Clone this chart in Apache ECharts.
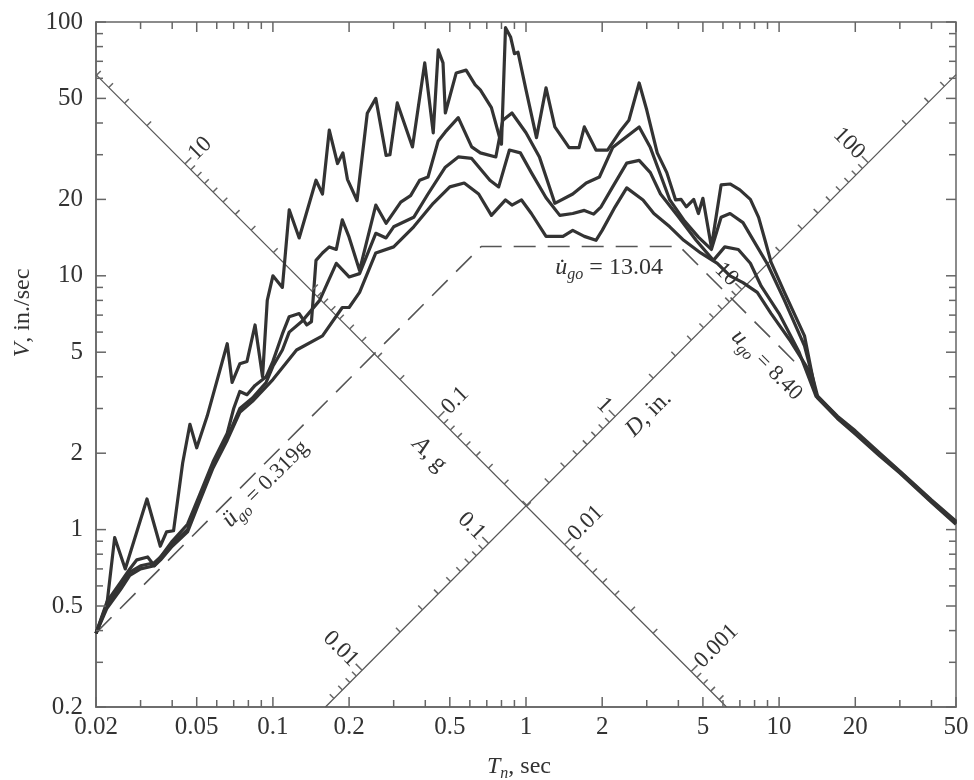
<!DOCTYPE html>
<html><head><meta charset="utf-8">
<script src="https://cdn.jsdelivr.net/npm/echarts/dist/echarts.min.js"></script>
<style>html,body{margin:0;padding:0;background:#fff}#c{width:974px;height:780px}</style>
</head><body><div id="c"></div>
<script>
// ---------- axis ranges & ticks ----------
const T_MIN = 0.02, T_MAX = 50, V_MIN = 0.2, V_MAX = 100;
const xTickLabels = [0.02, 0.05, 0.1, 0.2, 0.5, 1, 2, 5, 10, 20, 50];
const xMinorTicks = [0.03, 0.04, 0.06, 0.07, 0.08, 0.09, 0.3, 0.4, 0.6, 0.7, 0.8, 0.9, 3, 4, 6, 7, 8, 9, 30, 40];
const yTickLabels = [0.2, 0.5, 1, 2, 5, 10, 20, 50, 100];
const yMinorTicks = [0.3, 0.4, 0.6, 0.7, 0.8, 0.9, 3, 4, 6, 7, 8, 9, 30, 40, 60, 70, 80, 90];

// ---------- tripartite axes ----------
const G_IN = 386.1;          // g in in./sec^2
const DIAG_CONST = 1.24;     // A-axis: V*T = c ; D-axis: V/T = c
const aTickLabels = [10, 0.1, 0.01, 0.001];
const dTickLabels = [0.01, 0.1, 1, 10, 100];

// ---------- ground motion bounds ----------
const PEAK_ACC_G = 0.319, PEAK_VEL = 13.04, PEAK_DISP = 8.40;
const DASH_END_T = 12.2;

// ---------- response spectra (damping 0, 2, 5, 10 %) ----------
const c0T = [0.02,0.0221,0.0237,0.0261,0.0318,0.0359,0.038,0.0405,0.044,0.047,0.05,0.055,0.066,0.069,0.074,0.079,0.085,0.091,0.095,0.1,0.109,0.116,0.127,0.148,0.157,0.167,0.18,0.189,0.197,0.215,0.236,0.255,0.28,0.29,0.31,0.356,0.398,0.43,0.45,0.47,0.48,0.53,0.58,0.63,0.66,0.73,0.8,0.83,0.87,0.9,0.93,1.0,1.1,1.2,1.3,1.48,1.62,1.7,1.89,2.1,2.35,2.55,2.8,3.0,3.3,3.6,3.9,4.1,4.3,4.6,4.8,5.0,5.4,5.9,6.4,7.0,7.7,8.3,8.8,9.3,10.5,12.6,14,17,20,25,30,40,50];
const c0V = [0.39,0.51,0.93,0.70,1.32,0.86,0.98,0.99,1.83,2.6,2.1,2.8,5.4,3.8,4.5,4.6,6.4,4.0,8.0,10.0,9.0,18.2,14.1,23.8,21,37.5,27.7,30.5,24,19.8,43.7,50,29.8,30,48,32.2,69,36.6,77.6,69,43.8,63,64.6,56.5,54,46,33,95,87,75,76,54,35,55,38.6,32,32,38.6,31.3,31.3,37,41,57.5,45,30.5,25.5,19.9,20,18.7,20,17.6,20.2,13,22.8,23,21.8,20,17,13.8,11.3,8.6,5.8,3.4,2.8,2.45,2.0,1.7,1.31,1.08];
const c1T = [0.02,0.0221,0.025,0.0272,0.029,0.032,0.034,0.036,0.04,0.046,0.051,0.058,0.066,0.07,0.074,0.079,0.085,0.094,0.1,0.109,0.116,0.127,0.136,0.142,0.148,0.157,0.167,0.178,0.188,0.2,0.22,0.255,0.28,0.32,0.35,0.38,0.41,0.45,0.48,0.54,0.61,0.66,0.76,0.81,0.88,1.0,1.13,1.3,1.53,1.73,1.95,2.2,2.4,2.8,3.1,3.35,3.7,4.2,4.8,5.4,5.9,6.4,7.2,8.2,9.0,10.5,12.6,14.2,17,20,25,30,40,50];
const c1V = [0.39,0.52,0.62,0.70,0.76,0.78,0.72,0.78,0.90,1.05,1.35,1.85,2.4,3.0,3.5,3.4,3.7,4.0,4.6,5.9,6.9,7.1,6.4,6.6,11.5,12.3,13,12.7,16.6,14.2,10.5,19,16.1,19.5,20.7,23.8,24.5,34,36.9,42,32.2,30.5,29.4,41,43.8,36.6,29.4,19.3,21,23.2,24.5,32,34.3,38.6,32,26,19.9,16.6,14.2,12.7,17,17.6,16.2,13,11.1,8.0,5.3,3.35,2.78,2.42,1.98,1.69,1.3,1.07];
const c2T = [0.02,0.0221,0.025,0.0272,0.03,0.034,0.036,0.04,0.046,0.051,0.058,0.066,0.074,0.083,0.094,0.1,0.109,0.116,0.13,0.153,0.178,0.2,0.22,0.255,0.28,0.3,0.36,0.41,0.48,0.54,0.61,0.72,0.78,0.86,0.95,1.05,1.2,1.36,1.53,1.7,1.85,1.98,2.2,2.5,2.8,3.1,3.4,4.0,4.7,5.5,6.1,6.9,7.7,8.5,10,12,14,17,20,25,30,40,50];
const c2V = [0.39,0.5,0.6,0.68,0.72,0.74,0.78,0.88,1.0,1.3,1.8,2.3,3.0,3.3,3.8,4.4,5.1,6.0,6.6,8.0,11.2,9.9,10.2,14.7,14.1,15.6,17.0,21,26.8,29.4,29,23.8,22.4,31.3,30.5,25.5,20.3,17.3,17.6,18.1,17.5,18.7,22.4,27.8,28.5,25.5,21,17.1,13.8,11.5,13,12.7,11.2,9.1,7.1,5.0,3.35,2.76,2.4,1.97,1.68,1.29,1.06];
const c3T = [0.02,0.0221,0.025,0.0272,0.03,0.034,0.036,0.04,0.046,0.051,0.058,0.066,0.074,0.083,0.1,0.124,0.157,0.188,0.2,0.22,0.255,0.3,0.36,0.43,0.5,0.57,0.65,0.73,0.83,0.88,0.96,1.05,1.2,1.4,1.53,1.7,1.89,2.0,2.25,2.5,2.9,3.2,3.7,4.2,4.9,5.7,6.4,7.2,8.2,9.3,11,13,14.2,17,20,25,30,40,50];
const c3V = [0.39,0.49,0.58,0.66,0.70,0.72,0.76,0.86,0.98,1.27,1.75,2.25,2.9,3.2,3.9,5.1,5.8,7.5,7.5,8.6,12.3,13,15.6,19.3,22.4,23.2,21,17.3,19.9,19,19.9,17.6,14.3,14.3,15.1,14.3,13.8,15.1,18.7,22.2,19.9,17.6,15.6,13.8,12.3,11.2,10.0,9.4,8.6,7.1,5.6,4.3,3.3,2.74,2.38,1.95,1.67,1.28,1.05];

// ---------- styling ----------
const FONT = "'Liberation Serif','DejaVu Serif',serif";
const AXIS_COLOR = '#666';
const INK = '#333';
const TXT = '#333';
const RICH = {
  i: { fontFamily: FONT, fontStyle: 'italic', fontSize: 24, fill: TXT },
  s: { fontFamily: FONT, fontStyle: 'italic', fontSize: 16, fill: TXT, verticalAlign: 'bottom', lineHeight: 30 },
  n: { fontFamily: FONT, fontSize: 24, fill: TXT }
};

const zip = (a, b) => a.map((t, i) => [t, b[i]]);
const S2 = Math.SQRT1_2;

// all decorations (tick marks + texts) in one list
const deco = [];
function tick(t, v, dx, dy, len) { deco.push({ kind: 'tick', t, v, dx, dy, len }); }
function txt(t, v, text, ox, oy, rot, align, va, size) { deco.push({ kind: 'text', t, v, text, ox, oy, rot, align, va, size }); }

xTickLabels.forEach(t => { tick(t, V_MIN, 0, -1, 10); tick(t, V_MAX, 0, 1, 10); });
xMinorTicks.forEach(t => { tick(t, V_MIN, 0, -1, 7); tick(t, V_MAX, 0, 1, 7); });
yTickLabels.forEach(v => { tick(T_MIN, v, 1, 0, 10); tick(T_MAX, v, -1, 0, 10); });
yMinorTicks.forEach(v => { tick(T_MIN, v, 1, 0, 7); tick(T_MAX, v, -1, 0, 7); });

const aLineEndT = DIAG_CONST / V_MIN;
const dLineStartT = V_MIN / DIAG_CONST;
for (let e = -4; e <= 2; e++) {
  for (let m = 1; m <= 9; m++) {
    const val = m * Math.pow(10, e);
    const tA = Math.sqrt(2 * Math.PI * DIAG_CONST / (val * G_IN));
    if (tA >= T_MIN && tA <= aLineEndT) tick(tA, DIAG_CONST / tA, S2, -S2, m === 1 ? 9 : 6);
    const tD = Math.sqrt(2 * Math.PI * val / DIAG_CONST);
    if (tD >= dLineStartT && tD <= T_MAX) tick(tD, DIAG_CONST * tD, -S2, -S2, m === 1 ? 9 : 6);
  }
}

xTickLabels.forEach(t => txt(t, V_MIN, String(t), 0, 8, 0, 'center', 'top', 25));
yTickLabels.forEach(v => txt(T_MIN, v, String(v), -13, 0, 0, 'right', 'middle', 25));
aTickLabels.forEach(a => {
  const t = Math.sqrt(2 * Math.PI * DIAG_CONST / (a * G_IN));
  txt(t, DIAG_CONST / t, String(a), 10 * S2, -10 * S2, Math.PI / 4, 'left', 'middle', 23);
});
dTickLabels.forEach(d => {
  const t = Math.sqrt(2 * Math.PI * d / DIAG_CONST);
  txt(t, DIAG_CONST * t, String(d), -10 * S2, -10 * S2, -Math.PI / 4, 'right', 'middle', 23);
});
txt(0.51, DIAG_CONST / 0.51, '{i|A}, g', -32 * S2, 32 * S2, -Math.PI / 4, 'center', 'middle', 24);
txt(2.65, DIAG_CONST * 2.65, '{i|D}, in.', 22 * S2, 22 * S2, Math.PI / 4, 'center', 'middle', 24);
const accIn = PEAK_ACC_G * G_IN;
txt(0.085, accIn * 0.085 / (2 * Math.PI), '{i|ü}{s|go} = 0.319g', 15 * S2, 15 * S2, Math.PI / 4, 'center', 'middle', 22);
txt(2.13, PEAK_VEL, '{i|u\u0307}{s|go} = 13.04', 0, 21, 0, 'center', 'middle', 24);
txt(10.3, 2 * Math.PI * PEAK_DISP / 10.3, '{i|u}{s|go} = 8.40', -22 * S2, 22 * S2, -Math.PI / 4, 'center', 'middle', 22);

// dashed bound lines
const tB = 2 * Math.PI * PEAK_VEL / accIn;
const tC = 2 * Math.PI * PEAK_DISP / PEAK_VEL;
const boundData = [
  [T_MIN, accIn * T_MIN / (2 * Math.PI)],
  [tB, PEAK_VEL],
  [tC, PEAK_VEL],
  [DASH_END_T, 2 * Math.PI * PEAK_DISP / DASH_END_T]
];

const chart = echarts.init(document.getElementById('c'), null, { renderer: 'canvas' });
const logAxis = (min, max) => ({
  type: 'log', logBase: 10, min, max,
  axisLine: { show: true, lineStyle: { color: AXIS_COLOR, width: 1.5 } },
  axisTick: { show: false }, axisLabel: { show: false }, splitLine: { show: false }, minorTick: { show: false }
});

const spectrumLine = (data) => ({
  type: 'line', data, symbol: 'none', silent: true, z: 5,
  lineStyle: { color: INK, width: 3.2, join: 'round' }
});

chart.setOption({
  animation: false,
  backgroundColor: '#fff',
  grid: { left: 96, right: 18, top: 22, bottom: 73, show: true, borderColor: AXIS_COLOR, borderWidth: 1.5, backgroundColor: 'transparent' },
  xAxis: logAxis(T_MIN, T_MAX),
  yAxis: logAxis(V_MIN, V_MAX),
  graphic: [
    { type: 'text', x: 23, y: 313, rotation: Math.PI / 2, style: { text: '{i|V}, in./sec', rich: RICH, fontFamily: FONT, fontSize: 24, fill: TXT, align: 'center', verticalAlign: 'middle' } },
    { type: 'text', x: 519, y: 767, style: { text: '{i|T}{s|n}, sec', rich: RICH, fontFamily: FONT, fontSize: 24, fill: TXT, align: 'center', verticalAlign: 'middle' } }
  ],
  series: [
    { type: 'line', data: [[T_MIN, DIAG_CONST / T_MIN], [aLineEndT, V_MIN]], symbol: 'none', silent: true, z: 2, lineStyle: { color: '#555', width: 1.2 } },
    { type: 'line', data: [[dLineStartT, V_MIN], [T_MAX, DIAG_CONST * T_MAX]], symbol: 'none', silent: true, z: 2, lineStyle: { color: '#555', width: 1.2 } },
    { type: 'line', data: boundData, symbol: 'none', silent: true, z: 3, lineStyle: { color: '#555', width: 1.6, type: [22, 12] } },
    spectrumLine(zip(c3T, c3V)),
    spectrumLine(zip(c2T, c2V)),
    spectrumLine(zip(c1T, c1V)),
    spectrumLine(zip(c0T, c0V)),
    {
      type: 'custom', coordinateSystem: 'cartesian2d', clip: false, z: 6,
      encode: { x: 0, y: 1 },
      data: deco.map(o => [o.t, o.v]),
      renderItem: (params, api) => {
        const o = deco[params.dataIndex];
        const p = api.coord([api.value(0), api.value(1)]);
        if (o.kind === 'tick') {
          return { type: 'line',
                   shape: { x1: p[0], y1: p[1], x2: p[0] + o.dx * o.len, y2: p[1] + o.dy * o.len },
                   style: { stroke: AXIS_COLOR, lineWidth: 1.5 } };
        }
        return { type: 'text', x: p[0] + o.ox, y: p[1] + o.oy, rotation: o.rot,
                 style: { text: o.text, rich: RICH, fontFamily: FONT, fontSize: o.size, fill: TXT, align: o.align, verticalAlign: o.va } };
      }
    }
  ]
});
</script>
</body></html>
